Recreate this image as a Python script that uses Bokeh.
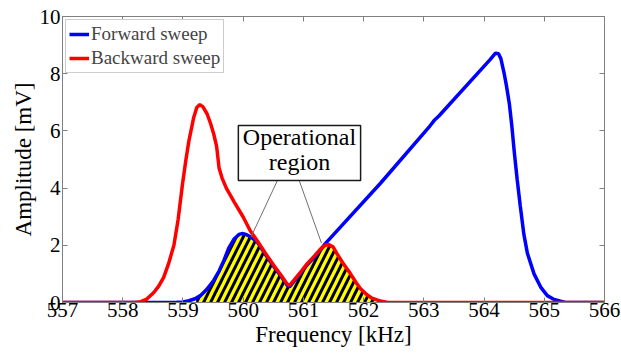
from bokeh.plotting import figure
from bokeh.models import (LinearAxis, FixedTicker, BoxAnnotation, Label, Range1d, ColumnDataSource)
from bokeh.embed import file_html
from bokeh.resources import INLINE

# ---- data ----
red_freq = [557.0, 558.2, 558.3, 558.4, 558.52, 558.6, 558.68, 558.76, 558.85, 558.92, 558.99, 559.05,
            559.1, 559.18, 559.23, 559.28, 559.33, 559.4, 559.46, 559.51, 559.56, 559.6, 559.65, 559.72,
            559.85, 560.0, 560.12, 560.23, 560.37, 560.51, 560.63, 560.73, 560.77, 560.84, 560.95, 561.06,
            561.18, 561.29, 561.36, 561.42, 561.49, 561.56, 561.65, 561.78, 561.88, 561.95, 562.05, 562.14,
            562.28, 562.4, 566.0]
red_amp = [0, 0, 0.03, 0.12, 0.36, 0.58, 0.88, 1.35, 2.0, 2.9, 4.1, 5.0,
           5.66, 6.48, 6.82, 6.92, 6.85, 6.6, 6.25, 5.9, 5.45, 4.7, 4.35, 4.0,
           3.52, 2.99, 2.5, 2.17, 1.72, 1.29, 0.95, 0.65, 0.6, 0.77, 1.05, 1.35,
           1.62, 1.88, 2.0, 2.03, 1.95, 1.70, 1.40, 1.01, 0.68, 0.48, 0.28, 0.15,
           0.05, 0.0, 0]

blue_freq = [557.0, 558.3, 558.9, 559.0, 559.1, 559.2, 559.29, 559.4, 559.51, 559.6, 559.68, 559.76,
             559.85, 559.93, 559.98, 560.05, 560.12, 560.23, 560.37, 560.51, 560.63, 560.73, 560.77,
             560.84, 560.95, 561.06, 561.18, 561.29, 561.36, 562.28, 563.1, 563.17, 563.25, 564.1,
             564.19, 564.24, 564.28, 564.33, 564.37, 564.42, 564.46, 564.5, 564.55, 564.6, 564.66,
             564.72, 564.83, 564.94, 565.05, 565.15, 565.27, 565.35, 566.0]
blue_amp = [0, 0, 0.01, 0.02, 0.06, 0.13, 0.24, 0.47, 0.77, 1.1, 1.47, 1.9,
            2.22, 2.38, 2.41, 2.38, 2.3, 2.13, 1.68, 1.25, 0.91, 0.6, 0.55,
            0.73, 1.01, 1.31, 1.58, 1.85, 2.05, 4.17, 6.17, 6.36, 6.52, 8.49,
            8.72, 8.7, 8.52, 8.05, 7.6, 6.95, 6.2, 5.3, 4.3, 3.4, 2.4,
            1.72, 1.0, 0.54, 0.24, 0.12, 0.05, 0.0, 0]

region_freq = [559.22, 559.29, 559.4, 559.51, 559.6, 559.68, 559.76, 559.85, 559.93, 559.98, 560.05,
               560.12, 560.23, 560.37, 560.51, 560.63, 560.73, 560.77, 560.84, 560.95, 561.06, 561.18,
               561.29, 561.36, 561.42, 561.49, 561.56, 561.65, 561.78, 561.88, 561.95, 562.05, 562.14, 562.28]
region_amp = [0.16, 0.24, 0.47, 0.77, 1.1, 1.47, 1.9, 2.22, 2.38, 2.41, 2.38,
              2.3, 2.13, 1.68, 1.25, 0.91, 0.6, 0.55, 0.73, 1.01, 1.31, 1.58,
              1.85, 2.0, 2.03, 1.95, 1.70, 1.40, 1.01, 0.68, 0.48, 0.28, 0.15, 0.05]

x_ticks = [557, 558, 559, 560, 561, 562, 563, 564, 565, 566]
y_ticks = [0, 2, 4, 6, 8, 10]
series_names = ["Forward sweep", "Backward sweep"]
annotation_lines = ["Operational", "region"]

FONT = "Liberation Serif"
GREY = "#808080"

p = figure(width=621, height=356, output_backend="svg", toolbar_location=None,
           x_range=Range1d(557, 566), y_range=Range1d(0, 10),
           min_border_left=62, min_border_right=17, min_border_top=16, min_border_bottom=54,
           x_axis_label="Frequency [kHz]", y_axis_label="Amplitude [mV]")
p.grid.visible = False
p.outline_line_color = GREY
p.outline_line_width = 1

for ax, ticks in ((p.xaxis[0], x_ticks), (p.yaxis[0], y_ticks)):
    ax.ticker = FixedTicker(ticks=ticks)
    ax.axis_line_color = GREY
    ax.major_tick_line_color = GREY
    ax.major_tick_in = 5
    ax.major_tick_out = 0
    ax.minor_tick_line_color = None
    ax.major_label_text_font = FONT
    ax.major_label_text_font_size = "21px"
    ax.major_label_text_color = "black"
    ax.axis_label_text_font = FONT
    ax.axis_label_text_font_size = "23px"
    ax.axis_label_text_font_style = "normal"
    ax.axis_label_text_color = "black"

p.xaxis[0].major_label_standoff = 0
p.xaxis[0].axis_label_standoff = 2
p.yaxis[0].major_label_standoff = 2
p.yaxis[0].axis_label_standoff = 1

# box axes (top and right): tick marks only, labels not drawn
for loc, ticks in (("above", x_ticks), ("right", y_ticks)):
    ax = LinearAxis(ticker=FixedTicker(ticks=ticks))
    ax.axis_line_color = GREY
    ax.major_tick_line_color = GREY
    ax.major_tick_in = 5
    ax.major_tick_out = 0
    ax.minor_tick_line_color = None
    ax.major_label_text_font_size = "8px"
    ax.major_label_text_color = None
    ax.major_label_standoff = 0
    p.add_layout(ax, loc)

# hatched operational region
region_src = ColumnDataSource(dict(x=region_freq, y=region_amp))
p.varea(x="x", y1=0, y2="y", source=region_src, fill_color="#ffff00",
        hatch_pattern="/", hatch_color="black", hatch_scale=14, hatch_weight=3)

p.line(blue_freq, blue_amp, line_color="#0000ff", line_width=3.5, legend_label=series_names[0])
p.line(red_freq, red_amp, line_color="#ff0000", line_width=3.5, legend_label=series_names[1])

# connector lines from the annotation box
p.segment(x0=[560.57, 560.93], y0=[4.27, 4.27], x1=[560.13, 561.30], y1=[2.29, 2.08],
          line_color="#707070", line_width=1)

box = BoxAnnotation(left=559.92, right=561.95, bottom=4.27, top=6.19,
                    fill_color="white", fill_alpha=1, line_color="#1a1a1a", line_alpha=1,
                    line_width=1.5)
p.add_layout(box)
for txt, yy in zip(annotation_lines, [5.77, 4.90]):
    p.add_layout(Label(x=560.935, y=yy, text=txt, text_align="center", text_baseline="middle",
                       text_font=FONT, text_font_size="24px", text_color="black"))

lg = p.legend[0]
lg.location = "top_left"
lg.margin = 3
lg.padding = 3
lg.spacing = 2
lg.glyph_width = 20
lg.glyph_height = 22
lg.label_height = 22
lg.label_standoff = 2
lg.label_text_font = FONT
lg.label_text_font_size = "19px"
lg.border_line_color = "#999999"
lg.border_line_width = 1
lg.background_fill_alpha = 1

open("out.html", "w").write(file_html(p, INLINE))
